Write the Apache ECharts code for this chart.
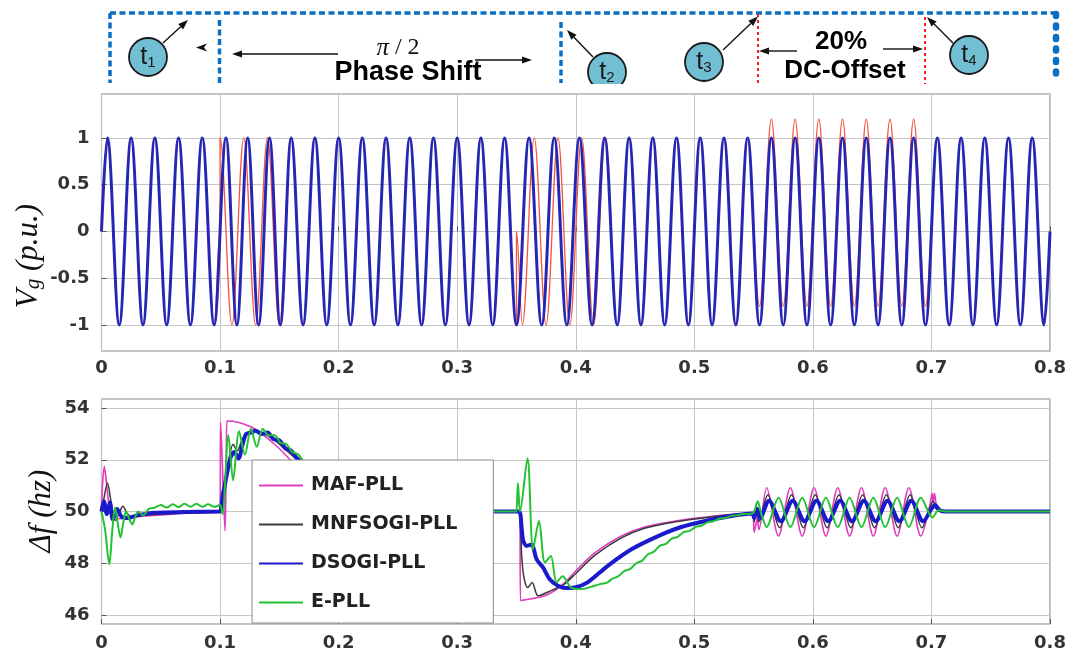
<!DOCTYPE html>
<html><head><meta charset="utf-8">
<script src="https://cdn.jsdelivr.net/npm/echarts@6/dist/echarts.min.js"></script>
<style>html,body{margin:0;padding:0;background:#fff}#c{width:1074px;height:655px}</style>
</head><body><div id="c"></div>
<script>
// ---------------- data ----------------
const xTickLabels = ['0','0.1','0.2','0.3','0.4','0.5','0.6','0.7','0.8'];
const vgTickValues = [-1,-0.5,0,0.5,1];
const vgTickLabels = ['-1','-0.5','0','0.5','1'];
const dfTickValues = [46,48,50,52,54];
const dfTickLabels = ['46','48','50','52','54'];
const legendNames = ['MAF-PLL','MNFSOGI-PLL','DSOGI-PLL','E-PLL'];

// grid voltage (red) – extrema / jump points [t, p.u.]
const vgGrid = [[0,0],[0.005,1],[0.015,-1],[0.025,1],[0.035,-1],[0.045,1],[0.055,-1],[0.065,1],[0.075,-1],[0.085,1],[0.095,-1],[0.1,0],
[0.1,1],[0.11,-1],[0.12,1],[0.13,-1],[0.14,1],[0.15,-1],[0.16,1],[0.17,-1],[0.18,1],[0.19,-1],[0.2,1],[0.21,-1],[0.22,1],[0.23,-1],[0.24,1],[0.25,-1],[0.26,1],[0.27,-1],[0.28,1],[0.29,-1],[0.3,1],[0.31,-1],[0.32,1],[0.33,-1],[0.34,1],[0.35,-1],
[0.35,0],[0.355,-1],[0.365,1],[0.375,-1],[0.385,1],[0.395,-1],[0.405,1],[0.415,-1],[0.425,1],[0.435,-1],[0.445,1],[0.455,-1],[0.465,1],[0.475,-1],[0.485,1],[0.495,-1],[0.505,1],[0.515,-1],[0.525,1],[0.535,-1],[0.545,1],
[0.555,-0.8],[0.565,1.2],[0.575,-0.8],[0.585,1.2],[0.595,-0.8],[0.605,1.2],[0.615,-0.8],[0.625,1.2],[0.635,-0.8],[0.645,1.2],[0.655,-0.8],[0.665,1.2],[0.675,-0.8],[0.685,1.2],[0.695,-0.8],
[0.705,1],[0.715,-1],[0.725,1],[0.735,-1],[0.745,1],[0.755,-1],[0.765,1],[0.775,-1],[0.785,1],[0.795,-1],[0.8,0]];

// estimated voltage (blue)
const vgEst = [[0,0],[0.005,1],[0.015,-1],[0.025,1],[0.035,-1],[0.045,1],[0.055,-1],[0.065,1],[0.075,-1],[0.085,1],[0.095,-1],
[0.105,1],[0.1142,-1],[0.1233,1],[0.1325,-1],[0.1417,1],[0.1508,-1],[0.16,1],[0.17,-1],[0.18,1],[0.19,-1],[0.2,1],[0.21,-1],[0.22,1],[0.23,-1],[0.24,1],[0.25,-1],[0.26,1],[0.27,-1],[0.28,1],[0.29,-1],[0.3,1],[0.31,-1],[0.32,1],[0.33,-1],[0.34,1],[0.35,-1],
[0.3606,1],[0.3713,-1],[0.3819,1],[0.3925,-1],[0.4031,1],[0.4138,-1],[0.4244,1],[0.435,-1],[0.445,1],[0.455,-1],[0.465,1],[0.475,-1],[0.485,1],[0.495,-1],[0.505,1],[0.515,-1],[0.525,1],[0.535,-1],[0.545,1],[0.555,-1],[0.565,1],[0.575,-1],[0.585,1],[0.595,-1],[0.605,1],[0.615,-1],[0.625,1],[0.635,-1],[0.645,1],[0.655,-1],[0.665,1],[0.675,-1],[0.685,1],[0.695,-1],[0.705,1],[0.715,-1],[0.725,1],[0.735,-1],[0.745,1],[0.755,-1],[0.765,1],[0.775,-1],[0.785,1],[0.795,-1],[0.8,0]];

// frequency responses [t, Hz]
const mafPll = [[0,50],[0.0008,51.0],[0.0024,51.75],[0.0042,51.1],[0.007,50.1],[0.011,49.8],[0.016,49.72],[0.025,49.78],[0.04,49.84],[0.06,49.9],[0.08,49.94],[0.099,49.97],[0.1,50.0],
[0.1004,53.45],[0.1015,52.4],[0.1042,49.25],[0.1052,51.8],[0.1058,53.5],[0.115,53.45],[0.129,53.2],[0.146,52.6],[0.16,51.95],[0.175,51.1],[0.19,50.4],[0.205,49.95],[0.22,49.85],[0.24,49.95],[0.26,50.0],[0.35,50.0],[0.3525,50.0],
[0.3535,46.55],[0.355,46.57],[0.374,46.74],[0.388,47.13],[0.4,47.7],[0.416,48.4],[0.4385,49.05],[0.458,49.4],[0.484,49.63],[0.509,49.78],[0.53,49.88],[0.549,49.93],
[0.5505,49.2],[0.552,49.5],[0.553,49.75],[0.5545,49.3],[0.561,50.92],[0.571,49.05],[0.581,50.92],[0.591,49.05],[0.601,50.92],[0.611,49.05],[0.621,50.92],[0.631,49.05],[0.641,50.92],[0.651,49.05],[0.661,50.92],[0.671,49.05],[0.681,50.92],[0.691,49.05],[0.699,50.3],[0.7005,50.7],[0.7015,50.35],[0.7025,50.7],[0.705,50.1],[0.71,50.0],[0.8,50.0]];

const mnfsogiPll = [[0,50],[0.002,50.5],[0.005,51.1],[0.008,50.4],[0.0114,49.65],[0.015,49.95],[0.018,50.2],[0.022,49.9],[0.026,49.78],[0.035,49.85],[0.06,49.92],[0.099,49.99],[0.1,50.0],
[0.1015,50.7],[0.104,51.2],[0.107,51.9],[0.111,52.6],[0.1145,52.35],[0.118,52.7],[0.122,53.0],[0.128,53.12],[0.135,53.05],[0.145,52.8],[0.155,52.4],[0.165,52.0],[0.18,51.3],[0.2,50.5],[0.22,50.1],[0.24,50.0],[0.35,50.0],[0.3525,50.0],
[0.3545,48.2],[0.3565,47.4],[0.3595,47.06],[0.3632,47.25],[0.3683,46.74],[0.3796,46.95],[0.39,47.18],[0.4,47.6],[0.416,48.3],[0.4385,48.98],[0.458,49.35],[0.484,49.6],[0.509,49.76],[0.53,49.87],[0.549,49.93],
[0.5505,49.6],[0.5525,50.2],[0.5545,49.6],[0.562,50.65],[0.572,49.37],[0.582,50.65],[0.592,49.37],[0.602,50.65],[0.612,49.37],[0.622,50.65],[0.632,49.37],[0.642,50.65],[0.652,49.37],[0.662,50.65],[0.672,49.37],[0.682,50.65],[0.692,49.37],[0.699,50.2],[0.7015,50.4],[0.704,50.1],[0.71,50.0],[0.8,50.0]];

const dsogiPll = [[0,50],[0.002,50.4],[0.0045,49.9],[0.007,50.35],[0.0095,49.7],[0.013,50.1],[0.017,49.8],[0.022,49.75],[0.03,49.85],[0.045,49.95],[0.07,49.98],[0.099,50.0],[0.1,50.0],
[0.102,50.5],[0.106,51.5],[0.109,52.1],[0.112,52.3],[0.1155,52.05],[0.119,52.6],[0.122,53.0],[0.126,53.05],[0.13,53.12],[0.135,53.0],[0.14,53.05],[0.145,52.8],[0.15,52.75],[0.155,52.45],[0.16,52.35],[0.165,52.05],[0.17,51.9],[0.18,51.4],[0.2,50.6],[0.22,50.15],[0.24,50.0],[0.35,50.0],[0.3525,50.0],
[0.3555,48.9],[0.3585,48.67],[0.3627,48.72],[0.367,48.15],[0.3725,47.83],[0.378,47.38],[0.385,47.13],[0.392,47.04],[0.399,47.06],[0.41,47.26],[0.427,47.9],[0.447,48.54],[0.4695,49.05],[0.489,49.4],[0.509,49.63],[0.53,49.82],[0.549,49.92],
[0.5505,49.75],[0.553,50.1],[0.5555,49.75],[0.563,50.42],[0.573,49.62],[0.583,50.42],[0.593,49.62],[0.603,50.42],[0.613,49.62],[0.623,50.42],[0.633,49.62],[0.643,50.42],[0.653,49.62],[0.663,50.42],[0.673,49.62],[0.683,50.42],[0.693,49.62],[0.7,50.1],[0.703,50.25],[0.707,50.05],[0.712,50.0],[0.8,50.0]];

const ePll = [[0,50],[0.003,49.3],[0.0066,47.96],[0.009,49.2],[0.0114,50.15],[0.0135,49.6],[0.016,49.0],[0.0185,49.6],[0.0207,50.0],[0.0235,49.7],[0.026,49.5],[0.0285,49.8],[0.031,50.0],[0.035,49.85],[0.04,50.1],[0.045,50.15],[0.05,50.25],[0.055,50.15],[0.06,50.28],[0.065,50.17],[0.07,50.3],[0.075,50.18],[0.08,50.3],[0.085,50.18],[0.09,50.28],[0.095,50.18],[0.1,50.25],
[0.102,49.9],[0.107,52.95],[0.111,51.2],[0.116,53.1],[0.121,52.2],[0.126,53.2],[0.131,52.5],[0.136,53.2],[0.141,52.95],[0.146,52.95],[0.151,52.65],[0.156,52.6],[0.161,52.3],[0.166,52.2],[0.171,51.9],[0.18,51.5],[0.2,50.7],[0.22,50.2],[0.24,50.0],[0.349,50.0],[0.35,50.0],
[0.3512,51.1],[0.353,50.0],[0.3593,52.06],[0.364,48.54],[0.369,49.63],[0.374,48.03],[0.379,48.28],[0.3838,47.26],[0.389,47.5],[0.396,47.06],[0.405,47.0],[0.416,47.13],
[0.421,47.2],[0.426,47.24],[0.431,47.4],[0.436,47.5],[0.441,47.7],[0.446,47.78],[0.451,48.0],[0.456,48.1],[0.461,48.35],[0.466,48.45],[0.471,48.68],[0.476,48.75],[0.481,48.95],[0.486,49.02],[0.491,49.2],[0.496,49.25],[0.501,49.4],[0.506,49.45],[0.511,49.58],[0.516,49.62],[0.521,49.72],[0.526,49.75],[0.531,49.83],[0.536,49.85],[0.541,49.9],[0.549,49.92],
[0.5505,50.0],[0.5535,50.4],[0.5565,49.9],[0.561,49.4],[0.571,50.53],[0.581,49.4],[0.591,50.53],[0.601,49.4],[0.611,50.53],[0.621,49.4],[0.631,50.53],[0.641,49.4],[0.651,50.53],[0.661,49.4],[0.671,50.53],[0.681,49.4],[0.691,50.53],[0.701,49.77],[0.706,50.05],[0.712,50.0],[0.8,50.0]];

// ---------------- chart ----------------
const chart = echarts.init(document.getElementById('c'), null, {renderer:'canvas'});
const TICK_FONT = {fontFamily:'DejaVu Sans', fontWeight:'bold', fontSize:18, color:'#333'};
const GRID_LINE = {show:true, lineStyle:{color:'#c6c6c6', width:1}};
const TICK = {show:true, inside:true, length:5, lineStyle:{color:'#555'}};

function xAxisFor(gi, margin){
  return {gridIndex:gi, type:'value', min:0, max:0.8, interval:0.1,
    axisLine:{show:false}, axisTick:TICK, splitLine:GRID_LINE,
    axisLabel:Object.assign({margin:margin, formatter:v=>xTickLabels[Math.round(v*10)]}, TICK_FONT)};
}
function labelFrom(values, labels){
  return v => { const i = values.findIndex(t => Math.abs(t - v) < 1e-6); return i >= 0 ? labels[i] : ''; };
}

function arrowEls(x1,y1,x2,y2){
  const a = Math.atan2(y2-y1, x2-x1), L = 10, W = 3.6;
  const bx = x2 - L*Math.cos(a), by = y2 - L*Math.sin(a);
  const px = -Math.sin(a)*W, py = Math.cos(a)*W;
  return [
    {type:'line', shape:{x1:x1,y1:y1,x2:bx,y2:by}, style:{stroke:'#111', lineWidth:1.4}, z:110},
    {type:'polygon', shape:{points:[[x2,y2],[bx+px,by+py],[bx-px,by-py]]}, style:{fill:'#111'}, z:110}
  ];
}
function dotted(x1,y1,x2,y2,color,w,dash,cap){
  return {type:'line', shape:{x1:x1,y1:y1,x2:x2,y2:y2}, style:{stroke:color, lineWidth:w, lineDash:dash, lineCap:cap||'butt'}, z:105};
}
function circleLabel(cx,cy,n){
  return [
    {type:'circle', shape:{cx:cx, cy:cy, r:19}, style:{fill:'#72bfd3', stroke:'#1a1a1a', lineWidth:1.8}, z:112},
    {type:'text', x:cx, y:cy+1, z:113, style:{text:'{t|t}{n|'+n+'}', align:'center', verticalAlign:'middle',
      rich:{t:{fontFamily:'Liberation Sans', fontSize:25, fill:'#1a1a1a', verticalAlign:'bottom', lineHeight:24},
            n:{fontFamily:'Liberation Sans', fontSize:15, fill:'#1a1a1a', verticalAlign:'bottom', lineHeight:14}}}}
  ];
}

const BLUE = '#0b6fc4';
const graphics = [].concat(
  [dotted(110,13,1056,13,BLUE,3.5,[6,3.5]),
   dotted(110,13,110,83,BLUE,3.5,[6,3.5]),
   dotted(219.5,20,219.5,83,BLUE,3.5,[6,3.5]),
   dotted(561,22,561,83,BLUE,3.5,[6,3.5]),
   dotted(1056,14,1056,83,BLUE,6.5,[2,9.5],'round'),
   dotted(758,14,758,84,'#ff1a1a',2,[3,3]),
   dotted(925,17,925,84,'#ff1a1a',2,[3,3])],
  arrowEls(163,43,188,20),
  [{type:'polygon', shape:{points:[[196,47.5],[207,43.5],[204,47.5],[207,51.5]]}, style:{fill:'#111'}, z:110}],
  arrowEls(338,54,232,54),
  arrowEls(475,60,532,60),
  arrowEls(593,57,567,30),
  arrowEls(723,50,758,16.5),
  arrowEls(953,43,927,17),
  arrowEls(797,51,759,51),
  arrowEls(883,49,923,49),
  circleLabel(148,57,'1'),
  circleLabel(607,72,'2'),
  circleLabel(704,62,'3'),
  circleLabel(969,55,'4'),
  [{type:'text', x:398, y:48, z:114, style:{text:'{a|π}{b| / 2}', align:'center', verticalAlign:'middle',
      rich:{a:{fontFamily:'Liberation Serif', fontStyle:'italic', fontSize:25, fill:'#111'}, b:{fontFamily:'Liberation Serif', fontSize:24, fill:'#111'}}}},
   {type:'text', x:408, y:73, z:114, style:{text:'Phase Shift', align:'center', verticalAlign:'middle', fontFamily:'Liberation Sans', fontWeight:'bold', fontSize:27, fill:'#000'}},
   {type:'text', x:841, y:42, z:114, style:{text:'20%', align:'center', verticalAlign:'middle', fontFamily:'Liberation Sans', fontWeight:'bold', fontSize:26, fill:'#000'}},
   {type:'text', x:845, y:71, z:114, style:{text:'DC-Offset', align:'center', verticalAlign:'middle', fontFamily:'Liberation Sans', fontWeight:'bold', fontSize:26, fill:'#000'}},
   {type:'rect', shape:{x:100,y:84,width:970,height:8}, style:{fill:'#fff'}, z:120},
   {type:'text', x:27, y:256, rotation:Math.PI/2, z:114, style:{text:'{v|V}{g|g}{p| (p.u.)}', align:'center', verticalAlign:'middle',
      rich:{v:{fontFamily:'Liberation Serif', fontStyle:'italic', fontSize:31, fill:'#111', verticalAlign:'bottom', lineHeight:34},
            g:{fontFamily:'Liberation Serif', fontStyle:'italic', fontSize:21, fill:'#111', verticalAlign:'bottom', lineHeight:10},
            p:{fontFamily:'Liberation Serif', fontStyle:'italic', fontSize:31, fill:'#111', verticalAlign:'bottom', lineHeight:34}}}},
   {type:'text', x:42, y:511, rotation:Math.PI/2, z:114, style:{text:'Δf (hz)', align:'center', verticalAlign:'middle',
      fontFamily:'Liberation Serif', fontStyle:'italic', fontSize:31, fill:'#111'}}]
);

function lineSeries(name, data, xi, color, width, smooth, mono, z){
  const s = {name:name, type:'line', xAxisIndex:xi, yAxisIndex:xi, data:data, symbol:'none', smooth:smooth,
    lineStyle:{color:color, width:width}, itemStyle:{color:color, opacity:0}, silent:true, z:z, emphasis:{disabled:true}};
  if (mono) s.smoothMonotone = mono;
  return s;
}

const option = {
  animation:false,
  backgroundColor:'#fff',
  grid:[
    {left:101.5, top:94, width:948.5, height:257, show:true, borderColor:'#8a8a8a', borderWidth:1.2, backgroundColor:'#fff'},
    {left:101.5, top:399, width:948.5, height:225, show:true, borderColor:'#8a8a8a', borderWidth:1.2, backgroundColor:'#fff'}
  ],
  xAxis:[xAxisFor(0,8), xAxisFor(1,10)],
  yAxis:[
    {gridIndex:0, type:'value', min:-1.278, max:1.47, splitNumber:5, axisLine:{show:false}, axisTick:TICK, splitLine:GRID_LINE,
     axisLabel:Object.assign({margin:12, showMinLabel:false, showMaxLabel:false, formatter:labelFrom(vgTickValues, vgTickLabels)}, TICK_FONT)},
    {gridIndex:1, type:'value', min:45.65, max:54.35, splitNumber:5, axisLine:{show:false}, axisTick:TICK, splitLine:GRID_LINE,
     axisLabel:Object.assign({margin:12, showMinLabel:false, showMaxLabel:false, formatter:labelFrom(dfTickValues, dfTickLabels)}, TICK_FONT)}
  ],
  legend:{
    data:legendNames, orient:'vertical', left:252, top:460,
    itemWidth:44, itemHeight:14, itemGap:20, padding:[16,36,11,6],
    backgroundColor:'#fff', borderColor:'#8a8a8a', borderWidth:1, borderRadius:0,
    selectedMode:false, z:10,
    itemStyle:{opacity:0},
    textStyle:{fontFamily:'DejaVu Sans', fontWeight:'bold', fontSize:19, color:'#222', padding:[0,0,0,3]}
  },
  series:[
    lineSeries('Vg measured', vgGrid, 0, '#f2553f', 1.3, 0.364, 'x', 2),
    lineSeries('Vg estimated', vgEst, 0, '#2626b4', 3, 0.364, 'x', 3),
    lineSeries('MAF-PLL', mafPll, 1, '#e03cbe', 1.6, 0.3, null, 2),
    lineSeries('MNFSOGI-PLL', mnfsogiPll, 1, '#3a3a3a', 1.5, 0.3, null, 3),
    lineSeries('DSOGI-PLL', dsogiPll, 1, '#1a1acc', 4, 0.3, null, 4),
    lineSeries('E-PLL', ePll, 1, '#22c233', 2, 0.3, null, 5)
  ],
  graphic:{elements:graphics}
};
chart.setOption(option);
</script>
</body></html>
